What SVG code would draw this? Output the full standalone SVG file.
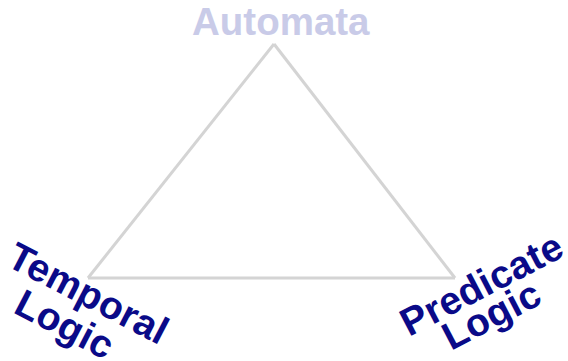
<svg xmlns="http://www.w3.org/2000/svg" width="568" height="361" viewBox="0 0 568 361">
<style>
.lbl{font-family:"Liberation Sans",Arial,sans-serif;font-weight:bold;font-size:39px;letter-spacing:0.2px;fill:#0a0a88}
.top{font-family:"Liberation Sans",Arial,sans-serif;font-weight:bold;font-size:38.5px;fill:#c9cbe8}
.edge{stroke:#d4d4d4;stroke-width:3;fill:none}
</style>
<rect width="568" height="361" fill="#ffffff"/>
<g id="connectors">
<line class="edge" x1="274" y1="44" x2="88" y2="278"/>
<line class="edge" x1="274" y1="44" x2="455" y2="278"/>
<line class="edge" x1="88" y1="278" x2="455" y2="278"/>
</g>
<g id="automata">
<text class="top" x="192" y="35">Automata</text>
</g>
<g id="temporal">
<text class="lbl" transform="translate(5,265) rotate(27.5)">Temporal</text>
<text class="lbl" transform="translate(12,312) rotate(27.5)">Logic</text>
</g>
<g id="predicate">
<text class="lbl" transform="translate(409,337) rotate(-27.5)">Predicate</text>
<text class="lbl" transform="translate(451,351) rotate(-27.5)">Logic</text>
</g>
</svg>
